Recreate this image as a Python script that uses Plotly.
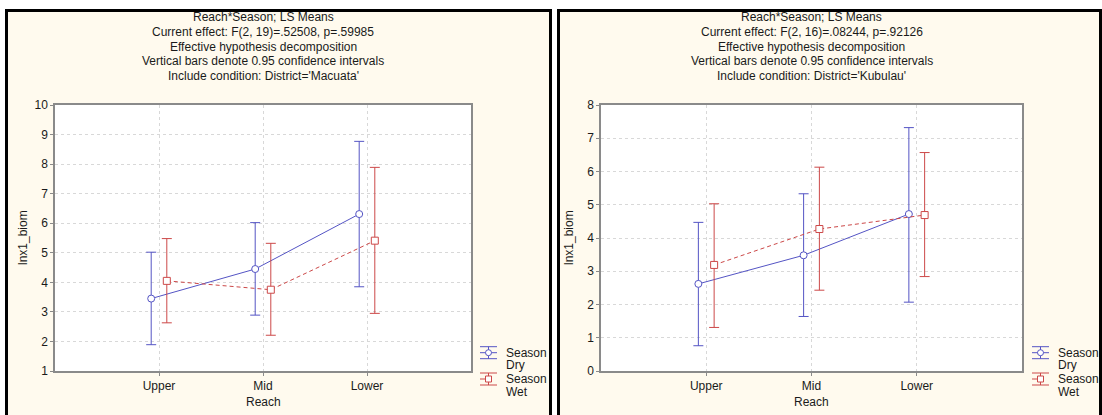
import plotly.graph_objects as go
import numpy as np

# ---------------- data ----------------
reach = ["Upper", "Mid", "Lower"]

mac_dry_mean = [3.45, 4.45, 6.31]
mac_dry_hi = [5.02, 6.02, 8.77]
mac_dry_lo = [1.89, 2.89, 3.85]
mac_wet_mean = [4.05, 3.75, 5.41]
mac_wet_hi = [5.48, 5.32, 7.89]
mac_wet_lo = [2.63, 2.21, 2.95]

kub_dry_mean = [2.62, 3.48, 4.72]
kub_dry_hi = [4.47, 5.33, 7.32]
kub_dry_lo = [0.76, 1.64, 2.07]
kub_wet_mean = [3.19, 4.27, 4.69]
kub_wet_hi = [5.03, 6.13, 6.57]
kub_wet_lo = [1.31, 2.43, 2.84]

mac_title = ["Reach*Season; LS Means",
             "Current effect: F(2, 19)=.52508, p=.59985",
             "Effective hypothesis decomposition",
             "Vertical bars denote 0.95 confidence intervals",
             "Include condition: District='Macuata'"]
kub_title = ["Reach*Season; LS Means",
             "Current effect: F(2, 16)=.08244, p=.92126",
             "Effective hypothesis decomposition",
             "Vertical bars denote 0.95 confidence intervals",
             "Include condition: District='Kubulau'"]
legend_labels = [("Season", "Dry"), ("Season", "Wet")]

# ---------------- style ----------------
W, H = 1102, 415
FONT = "Liberation Sans, Arial, sans-serif"
BLUE = "#5454C4"
RED = "#CC4848"
CREAM = "#FFFAEE"
GRID = "#D8D8D8"
AXC = "#8A8A8A"
TXT = "#1a1a1a"
OFF = 0.075


def px(x):
    return x / W


def py(y):
    return 1 - y / H


fig = go.Figure()
shapes = []
annotations = []

panels = [
    dict(ax="", mir="3", frame=(6.5, 10.5, 550.5), plot=(55, 105, 471, 371), yr=[1, 10],
         dry=(mac_dry_mean, mac_dry_hi, mac_dry_lo), wet=(mac_wet_mean, mac_wet_hi, mac_wet_lo),
         title=mac_title, leg_x=480),
    dict(ax="2", mir="4", frame=(558.5, 10.5, 1100.5), plot=(601, 105, 1022, 371), yr=[0, 8],
         dry=(kub_dry_mean, kub_dry_hi, kub_dry_lo), wet=(kub_wet_mean, kub_wet_hi, kub_wet_lo),
         title=kub_title, leg_x=1032),
]

for p in panels:
    fx0, fy0, fx1 = p["frame"]
    shapes.append(dict(type="rect", xref="paper", yref="paper", layer="below",
                       x0=px(fx0), x1=px(fx1), y0=py(fy0), y1=py(430),
                       fillcolor=CREAM, line=dict(color="black", width=3)))
    x0, y0, x1, y1 = p["plot"]
    shapes.append(dict(type="rect", xref="paper", yref="paper", layer="below",
                       x0=px(x0), x1=px(x1), y0=py(y1), y1=py(y0),
                       fillcolor="white", line=dict(width=0)))

    axis_common = dict(showgrid=True, gridcolor=GRID, griddash="dot", gridwidth=1,
                       showline=True, linecolor=AXC, linewidth=1.5, mirror=True,
                       ticks="outside", ticklen=3, tickcolor=AXC, zeroline=False,
                       automargin=False,
                       tickfont=dict(family=FONT, size=12, color=TXT), fixedrange=True)
    xa = "xaxis" + p["ax"]
    ya = "yaxis" + p["ax"]
    fig.update_layout(**{
        xa: dict(domain=[px(x0), px(x1)], range=[0, 4], tickvals=[1, 2, 3], ticktext=reach,
                 anchor="y" + p["ax"], **axis_common),
        ya: dict(domain=[py(y1), py(y0)], range=p["yr"], dtick=1,
                 anchor="x" + p["ax"], **axis_common),
        "yaxis" + p["mir"]: dict(overlaying="y" + p["ax"], anchor="x" + p["ax"], side="right",
                                 range=p["yr"], dtick=1, ticks="inside", ticklen=4, tickcolor=AXC,
                                 showticklabels=False, showgrid=False, zeroline=False,
                                 showline=False, automargin=False, fixedrange=True),
    })

    xpos = np.arange(1, len(reach) + 1)
    for key, color, sym, dash, shift in [("dry", BLUE, "circle", "solid", -OFF),
                                         ("wet", RED, "square", "4px,3px", OFF)]:
        mean, hi, lo = p[key]
        mean = np.array(mean); hi = np.array(hi); lo = np.array(lo)
        fig.add_trace(go.Scatter(
            x=xpos + shift, y=mean, mode="lines+markers",
            xaxis="x" + p["ax"], yaxis="y" + p["ax"], showlegend=False,
            line=dict(color=color, width=1, dash=dash),
            marker=dict(symbol=sym, size=7, color="white", line=dict(color=color, width=1)),
            error_y=dict(type="data", symmetric=False, array=hi - mean, arrayminus=mean - lo,
                         color=color, thickness=1, width=5),
        ))

    cx = (x0 + x1) / 2
    for i, line in enumerate(p["title"]):
        annotations.append(dict(xref="paper", yref="paper", x=px(cx), y=py(17 + i * 14.8),
                                text=line, showarrow=False, xanchor="center", yanchor="middle",
                                font=dict(family=FONT, size=12, color=TXT)))
    annotations.append(dict(xref="paper", yref="paper", x=px(cx), y=py(402), text="Reach",
                            showarrow=False, xanchor="center", yanchor="middle",
                            font=dict(family=FONT, size=12, color=TXT)))
    annotations.append(dict(xref="paper", yref="paper", x=px(x0 - 32), y=py((y0 + y1) / 2),
                            text="lnx1_biom", textangle=-90, showarrow=False,
                            xanchor="center", yanchor="middle",
                            font=dict(family=FONT, size=12, color=TXT)))

    # legend (drawn manually)
    lx = p["leg_x"]
    for j, (color, sym, dash) in enumerate([(BLUE, "circle", "solid"), (RED, "square", "dash")]):
        cy = 352.7 + j * 26.3
        lw = 1
        for yy in (cy - 6, cy + 6):
            shapes.append(dict(type="line", xref="paper", yref="paper", x0=px(lx), x1=px(lx + 17),
                               y0=py(yy), y1=py(yy), line=dict(color=color, width=lw)))
        shapes.append(dict(type="line", xref="paper", yref="paper", x0=px(lx), x1=px(lx + 17),
                           y0=py(cy), y1=py(cy), line=dict(color=color, width=lw, dash=dash)))
        shapes.append(dict(type="line", xref="paper", yref="paper", x0=px(lx + 8.5), x1=px(lx + 8.5),
                           y0=py(cy - 6), y1=py(cy + 6), line=dict(color=color, width=lw)))
        shapes.append(dict(type="circle" if sym == "circle" else "rect", xref="paper", yref="paper",
                           x0=px(lx + 5.5), x1=px(lx + 11.5), y0=py(cy - 3), y1=py(cy + 3),
                           fillcolor="white", line=dict(color=color, width=lw)))
        l1, l2 = legend_labels[j]
        annotations.append(dict(xref="paper", yref="paper", x=px(lx + 24), y=py(cy), text=l1,
                                showarrow=False, xanchor="left", yanchor="middle",
                                font=dict(family=FONT, size=12, color=TXT)))
        annotations.append(dict(xref="paper", yref="paper", x=px(lx + 24), y=py(cy + 12.5), text=l2,
                                showarrow=False, xanchor="left", yanchor="middle",
                                font=dict(family=FONT, size=12, color=TXT)))

fig.update_layout(
    width=W, height=H, margin=dict(l=0, r=0, t=0, b=0, autoexpand=False),
    paper_bgcolor="white", plot_bgcolor="rgba(0,0,0,0)",
    shapes=shapes, annotations=annotations, showlegend=False,
    font=dict(family=FONT, size=12, color=TXT),
)

fig.write_html("out.html", config={"displayModeBar": False},
               post_script="document.body.style.margin='0';document.body.style.overflow='hidden';")
